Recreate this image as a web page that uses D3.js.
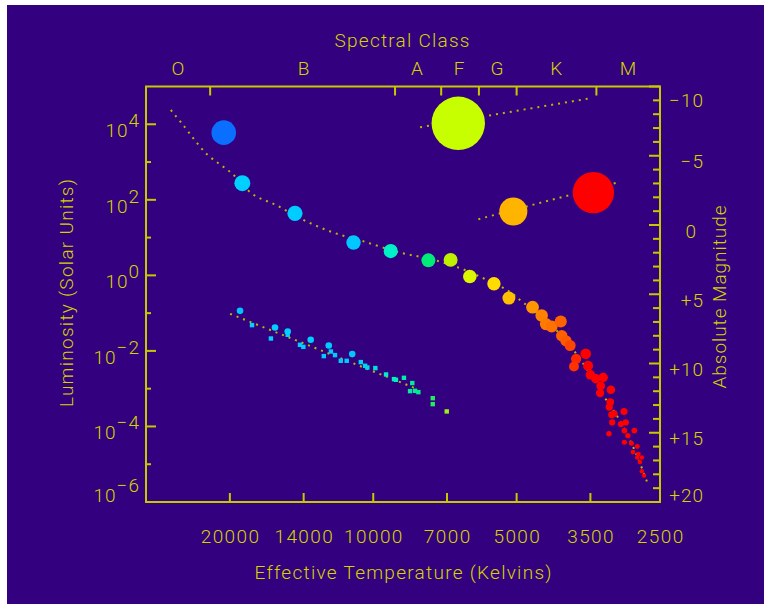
<!DOCTYPE html>
<html>
<head>
<meta charset="utf-8">
<script src="https://cdn.jsdelivr.net/npm/d3@7"></script>
<style>
  body { margin: 0; background: #fff; }
  svg text { font-family: Roboto, "DejaVu Sans", sans-serif; font-weight: 300; fill: #d4d400; }
</style>
</head>
<body>
<div id="chart"></div>
<script>
// axis values
const tempTicks = [20000, 14000, 10000, 7000, 5000, 3500, 2500];
const lumExponents = [4, 2, 0, -2, -4, -6];
const lumMinorExponents = [3, 1, -1, -3, -5];
const magTicks = [-10, -5, 0, 5, 10, 15, 20];
const spectralClasses = ["O", "B", "A", "F", "G", "K", "M"];
const classCenterTemp = [25700, 14000, 8100, 6600, 5500, 4130, 2920];
const classBoundTemp = [22000, 9000, 7200, 6000, 5000, 3400];

// main sequence stars (K, solar units)
const msTemp = [18830, 14600, 11000, 9190, 7660, 6880, 6270, 5580, 5190, 4630,
  4430, 4340, 4220, 4040, 4020, 3940, 3860, 3580, 3750, 3790,
  3540, 3500, 3410, 3290, 3330, 3170, 3340, 3180, 3195, 2975,
  3120, 3160, 3150, 3020, 2950, 2830, 2970, 2920, 3200, 2970,
  2870, 2790, 2850, 2775, 2730, 2790, 2755, 2730, 2700];
const msLum = [275, 44, 7.4, 4.4, 2.5, 2.57, 0.93, 0.6, 0.25, 0.144,
  0.0865, 0.0512, 0.0443, 0.06, 0.0251, 0.0185, 0.0139, 0.00838, 0.00618, 0.00387,
  0.00403, 0.00233, 0.00183, 0.00198, 0.00119, 0.000935, 0.000765, 0.000442, 0.000326, 0.000249,
  0.000217, 0.000204, 0.000128, 0.000116, 0.000128, 7.8e-5, 7.8e-5, 5.7e-5, 6.4e-5, 3.8e-5,
  3.6e-5, 2.96e-5, 2.1e-5, 1.86e-5, 1.51e-5, 1.51e-5, 1.14e-5, 6.5e-6, 5.0e-6];

// giants and supergiants
const giantTemp = [20600, 6630, 5080, 3450];
const giantLum = [6000, 10600, 49, 155];
const giantRadius = [6, 80, 8.2, 27];

// white dwarfs
const wdTemp = [17970, 16400, 15120, 14250, 14020, 12700, 12270, 12030, 11700, 11370,
  10620, 10400, 10290, 9900, 9400, 9045, 8960, 8620, 8280, 8370,
  8170, 8040, 7500, 7500, 7010];
const wdLum = [0.0482, 0.0213, 0.0267, 0.0145, 0.0128, 0.00728, 0.00964, 0.00774, 0.00547, 0.00547,
  0.00506, 0.00404, 0.00364, 0.00351, 0.00238, 0.00179, 0.00172, 0.00194, 0.00141, 0.00086,
  0.00088, 0.00081, 0.00056, 0.00039, 0.00025];
const wdBrightTemp = [19040, 16080, 15120, 13530, 12400, 11070];
const wdBrightLum = [0.115, 0.0416, 0.0326, 0.0197, 0.0139, 0.00822];

// fitted tracks
const msTrackTemp = [26610, 25080, 22370, 19820, 17880, 16000, 14020, 12130, 10570, 8785,
  7600, 6573, 5872, 5244, 4840, 4255, 3757, 3277, 3043, 2820, 2649];
const msTrackLum = [23900, 9580, 1637, 506, 139, 73, 29.4, 13.6, 8.2, 4.0,
  2.73, 1.55, 0.84, 0.413, 0.19, 0.052, 0.00875, 6.2e-4, 1.5e-4, 2.2e-5, 2.9e-6];
const sgTrackTemp = [7975, 3506];
const sgTrackLum = [8330, 48700];
const rgTrackTemp = [6016, 3082];
const rgTrackLum = [30.7, 285];
const wdTrackTemp = [19980, 8210];
const wdTrackLum = [0.096, 0.00106];

const W = 764, H = 604;
const lineYellow = "#c8c800";

const svg = d3.select("#chart").append("svg")
  .attr("width", W).attr("height", H);

svg.append("rect").attr("x", 7).attr("y", 5)
  .attr("width", W - 7).attr("height", H - 5).attr("fill", "#33007f");

const x = d3.scaleLog().domain([30000, 2500]).range([146, 660]);
const y = d3.scaleLog().domain([1e-6, 1e5]).range([502, 86.5]);
const mag = d3.scaleLinear().domain([-10, 20]).range([86.5, 502]);

const color = d3.scaleLog()
  .domain([20600, 18800, 11000, 9190, 7660, 6880, 6630, 6270, 5580, 5190, 5080, 4630, 4430, 3940, 3750, 3580])
  .range(["#0a6eff", "#00d2ff", "#00c8ff", "#00f0c8", "#00eb78", "#bef000", "#c8ff00", "#dcf500",
          "#ffdc00", "#ffbe00", "#ffb400", "#ff9600", "#ff8200", "#ff5a00", "#ff2800", "#ff0000"])
  .interpolate(d3.interpolateRgb)
  .clamp(true);

const msSize = d3.scaleLog().domain([1e-5, 5e-5, 2e-3, 0.1, 300])
  .range([2.2, 2.6, 4.7, 6.3, 8]).clamp(true);
const giantSize = d3.scaleLog().domain([6, 80]).range([12.3, 26.7]);

// frame
svg.append("rect")
  .attr("x", x.range()[0]).attr("y", y.range()[1])
  .attr("width", x.range()[1] - x.range()[0])
  .attr("height", y.range()[0] - y.range()[1])
  .attr("fill", "none").attr("stroke", lineYellow).attr("stroke-width", 2);

const ticks = svg.append("g").attr("stroke", lineYellow).attr("stroke-width", 2);

// bottom ticks
ticks.selectAll(".bt").data(tempTicks).join("line")
  .attr("x1", d => x(d)).attr("x2", d => x(d))
  .attr("y1", y.range()[0]).attr("y2", y.range()[0] - 9);

// top ticks (spectral class boundaries)
ticks.selectAll(".tt").data(classBoundTemp).join("line")
  .attr("x1", d => x(d)).attr("x2", d => x(d))
  .attr("y1", y.range()[1]).attr("y2", y.range()[1] + 9);

// left ticks
ticks.selectAll(".lt").data(lumExponents.concat(lumMinorExponents)).join("line")
  .attr("x1", x.range()[0])
  .attr("x2", d => x.range()[0] + (d % 2 === 0 ? 10 : 5))
  .attr("y1", d => y(Math.pow(10, d))).attr("y2", d => y(Math.pow(10, d)));

// right ticks (one per magnitude)
ticks.selectAll(".rt").data(d3.range(-10, 21)).join("line")
  .attr("x1", x.range()[1])
  .attr("x2", d => x.range()[1] - (d % 5 === 0 ? 11 : 7))
  .attr("y1", d => mag(d)).attr("y2", d => mag(d));

const fs = 19;

// bottom labels
svg.selectAll(".tl").data(tempTicks).join("text")
  .attr("x", d => x(d) + 0.7).attr("y", 543)
  .attr("text-anchor", "middle").attr("font-size", fs)
  .attr("letter-spacing", 1.4)
  .text(d => d);

svg.append("text").attr("x", 403).attr("y", 579)
  .attr("text-anchor", "middle").attr("font-size", fs)
  .attr("textLength", 297).attr("lengthAdjust", "spacing")
  .text("Effective Temperature (Kelvins)");

// top labels
svg.selectAll(".cl").data(spectralClasses).join("text")
  .attr("x", (d, i) => x(classCenterTemp[i])).attr("y", 75)
  .attr("text-anchor", "middle").attr("font-size", fs)
  .text(d => d);

svg.append("text").attr("x", 402).attr("y", 47)
  .attr("text-anchor", "middle").attr("font-size", fs)
  .attr("textLength", 135).attr("lengthAdjust", "spacing")
  .text("Spectral Class");

// left labels 10^n
const minus = "\u2212";
const ll = svg.selectAll(".ll").data(lumExponents).join("text")
  .attr("text-anchor", "end").attr("font-size", fs)
  .attr("letter-spacing", 1)
  .attr("transform", d => {
    const cy = Math.min(y(Math.pow(10, d)) + 6, 495);
    return `translate(140,${cy + 7})`;
  });
ll.append("tspan").text("10");
ll.append("tspan").attr("dy", -10)
  .text(d => (d < 0 ? minus + Math.abs(d) : d));

svg.append("text")
  .attr("transform", "translate(73,293) rotate(-90)")
  .attr("text-anchor", "middle").attr("font-size", fs)
  .attr("textLength", 228).attr("lengthAdjust", "spacing")
  .text("Luminosity (Solar Units)");

// right labels
svg.selectAll(".rl").data(magTicks).join("text")
  .attr("x", d => (d === 0 ? 697 : 704))
  .attr("y", d => Math.max(100, Math.min(mag(d) + 5.5, 495)) + 7)
  .attr("text-anchor", "end").attr("font-size", fs)
  .attr("letter-spacing", 1)
  .text(d => (d < 0 ? minus + Math.abs(d) : d > 0 ? "+" + d : "0"));

svg.append("text")
  .attr("transform", "translate(726,297) rotate(-90)")
  .attr("text-anchor", "middle").attr("font-size", fs)
  .attr("textLength", 183).attr("lengthAdjust", "spacing")
  .text("Absolute Magnitude");

// dotted tracks
const line = d3.line().x(d => x(d[0])).y(d => y(d[1])).curve(d3.curveCatmullRom);
const tracks = [
  d3.zip(msTrackTemp, msTrackLum),
  d3.zip(sgTrackTemp, sgTrackLum),
  d3.zip(rgTrackTemp, rgTrackLum),
  d3.zip(wdTrackTemp, wdTrackLum)
];
svg.append("g").selectAll("path").data(tracks).join("path")
  .attr("d", line)
  .attr("fill", "none")
  .attr("stroke", "#b8b800")
  .attr("stroke-width", 2)
  .attr("stroke-dasharray", "2 5");

// white dwarfs
svg.append("g").selectAll("rect").data(d3.zip(wdTemp, wdLum)).join("rect")
  .attr("x", d => x(d[0]) - 2.2).attr("y", d => y(d[1]) - 2.2)
  .attr("width", 4.4).attr("height", 4.4)
  .attr("fill", d => color(d[0]));

svg.append("g").selectAll("circle").data(d3.zip(wdBrightTemp, wdBrightLum)).join("circle")
  .attr("cx", d => x(d[0])).attr("cy", d => y(d[1])).attr("r", 3.3)
  .attr("fill", d => color(d[0]));

// main sequence
svg.append("g").selectAll("circle").data(d3.zip(msTemp, msLum)).join("circle")
  .attr("cx", d => x(d[0])).attr("cy", d => y(d[1]))
  .attr("r", d => msSize(d[1]))
  .attr("fill", d => color(d[0]));

// giants
svg.append("g").selectAll("circle").data(d3.zip(giantTemp, giantLum, giantRadius)).join("circle")
  .attr("cx", d => x(d[0])).attr("cy", d => y(d[1]))
  .attr("r", d => giantSize(d[2]))
  .attr("fill", d => color(d[0]));
</script>
</body>
</html>
